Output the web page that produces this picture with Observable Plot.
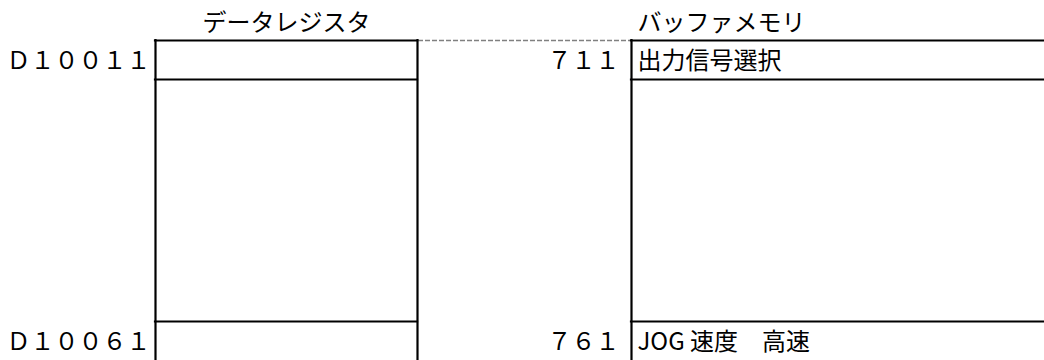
<!DOCTYPE html>
<html lang="ja">
<head>
<meta charset="utf-8">
<script src="https://cdn.jsdelivr.net/npm/d3@7"></script>
<script src="https://cdn.jsdelivr.net/npm/@observablehq/plot@0.6"></script>
<style>
  html, body { margin: 0; padding: 0; background: #fff; }
  #chart svg { display: block; background: #fff; }
</style>
</head>
<body>
<div id="chart"></div>
<script>
// ---- data ----
const headers = ["データレジスタ", "バッファメモリ"];
const registers = ["Ｄ１００１１", "Ｄ１００６１"];
const bufferAddresses = ["７１１", "７６１"];
const bufferContents = ["出力信号選択", "JOG 速度　高速"];

// ---- layout (row units on y, pixels on x) ----
const GAP_ROWS = 6.2;               // elided rows between first and last entry
const TOTAL = 1 + GAP_ROWS + 1;
const regBox = {x1: 155, x2: 417};
const bufBox = {x1: 631, x2: 1060};
const FONT = "'Noto Sans CJK JP', 'Noto Sans', sans-serif";
const FS = 24;

const rows = registers.map((reg, i) => ({
  reg,
  addr: bufferAddresses[i],
  content: bufferContents[i],
  top: i === 0 ? 0 : 1 + GAP_ROWS
}));
rows.forEach(r => { r.mid = r.top + 0.5; });

// horizontal dividing lines: top of each row and bottom of first row
const hLines = [0, 1, 1 + GAP_ROWS];
const boxes = [regBox, bufBox];
const hRules = boxes.flatMap(b => hLines.map(y => ({y, x1: b.x1, x2: b.x2})));
const vRules = [regBox.x1, regBox.x2, bufBox.x1];

const plot = Plot.plot({
  width: 1044,
  height: 360,
  margin: 0,
  style: {fontFamily: FONT, fontSize: FS + "px", color: "#000", background: "#fff"},
  x: {type: "identity", axis: null},
  y: {domain: [0, TOTAL], range: [40, 360], axis: null},
  marks: [
    // dashed connector between the two boxes
    Plot.ruleY([0], {x1: regBox.x2 + 1, x2: bufBox.x1 - 1, stroke: "#808080", strokeWidth: 1.3, strokeDasharray: "5,2"}),
    // horizontal lines
    Plot.ruleY(hRules, {y: "y", x1: "x1", x2: "x2", stroke: "#000", strokeWidth: 2.2, strokeLinecap: "square"}),
    // vertical lines
    Plot.ruleX(vRules, {x: d => d, y1: 0, y2: TOTAL, stroke: "#000", strokeWidth: 2.2, strokeLinecap: "square"}),
    // headers
    Plot.text([headers[0]], {
      x: () => (regBox.x1 + regBox.x2) / 2, y: () => -0.45, text: d => d,
      textAnchor: "middle", fontSize: FS, fill: "#000"
    }),
    Plot.text([headers[1]], {
      x: () => bufBox.x1 + 6, y: () => -0.45, text: d => d,
      textAnchor: "start", fontSize: FS, fill: "#000"
    }),
    // register labels
    Plot.text(rows, {x: () => regBox.x1 - 5, y: "mid", text: "reg", textAnchor: "end", fontSize: FS, fill: "#000", dy: 1}),
    // buffer addresses
    Plot.text(rows, {x: () => bufBox.x1 - 12, y: "mid", text: "addr", textAnchor: "end", fontSize: FS, fill: "#000", dy: 1}),
    // buffer contents
    Plot.text(rows, {x: () => bufBox.x1 + 6, y: "mid", text: "content", textAnchor: "start", fontSize: FS, fill: "#000", dy: 1})
  ]
});
document.getElementById("chart").appendChild(plot);
</script>
</body>
</html>
